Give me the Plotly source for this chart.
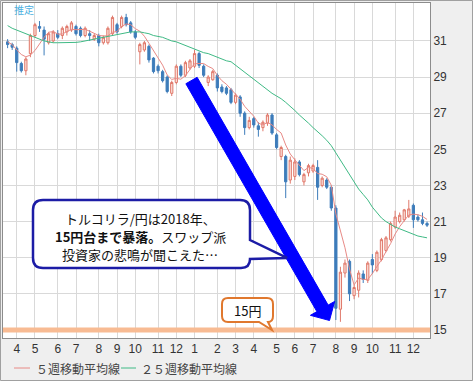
import math
import plotly.graph_objects as go
import pandas as pd

# ---------------- data (weekly TRY/JPY) ----------------
week_start = "2017-03-20"
n_weeks = 93
weeks = pd.date_range(week_start, periods=n_weeks, freq="7D")

opens = [30.95, 30.8, 30.6, 29.75, 29.35, 30.3, 31.3, 31.8, 31.6, 30.9,
         31.0, 31.4, 31.3, 31.5, 31.6, 31.8, 31.7, 31.3, 31.4, 31.1,
         31.3, 30.9, 30.9, 31.4, 31.9, 31.8, 32.3, 32.0, 31.5, 30.4,
         30.5, 30.7, 30.05, 29.6, 29.3, 29.0, 28.1, 28.7, 29.6, 29.1,
         29.5, 29.6, 30.3, 29.6, 28.7, 28.85, 29.1, 28.45, 28.4, 28.3,
         27.6, 27.9, 27.0, 26.2, 26.7, 26.3, 26.2, 26.45, 26.9, 25.8,
         24.6, 24.6, 23.3, 23.5, 24.3, 23.2, 23.7, 23.8, 24.0, 23.0,
         23.3, 22.9, 21.75, 16.15, 18.15, 18.8, 16.9, 17.2, 18.1, 17.75,
         18.9, 18.3, 18.9, 19.4, 20.0, 20.7, 21.0, 21.1, 21.3, 21.9,
         21.25, 21.1, 20.9]
highs = [31.1, 30.9, 30.7, 29.85, 30.1, 31.4, 32.0, 32.1, 31.8, 31.5,
         31.6, 31.6, 31.8, 31.9, 32.1, 31.9, 31.8, 31.8, 31.6, 31.4,
         31.4, 31.3, 31.8, 32.4, 32.0, 32.4, 32.5, 32.1, 31.6, 30.9,
         31.0, 30.8, 30.1, 29.7, 29.4, 29.1, 28.8, 29.7, 29.7, 29.9,
         30.0, 30.5, 30.4, 29.7, 29.1, 29.4, 29.2, 28.6, 28.5, 28.4,
         28.1, 28.0, 27.1, 26.8, 26.8, 26.5, 26.6, 27.0, 27.0, 25.9,
         25.2, 24.7, 24.6, 24.5, 24.4, 23.7, 24.2, 24.2, 24.4, 23.5,
         23.4, 23.0, 21.9, 18.5, 18.9, 18.9, 17.5, 18.3, 18.3, 18.8,
         19.2, 19.4, 20.1, 20.2, 21.0, 21.6, 21.5, 21.7, 22.2, 22.0,
         21.4, 21.5, 21.0]
lows = [30.6, 30.5, 29.3, 29.25, 29.1, 30.1, 31.2, 31.5, 30.2, 30.8,
        30.9, 31.1, 31.1, 31.3, 31.5, 31.3, 31.2, 31.2, 31.0, 31.0,
        30.7, 30.8, 30.8, 31.3, 31.4, 31.7, 31.8, 31.4, 31.1, 29.7,
        30.4, 29.8, 29.2, 29.2, 28.7, 28.1, 27.95, 28.6, 29.0, 29.0,
        29.4, 29.5, 29.5, 29.0, 28.5, 28.8, 28.2, 28.1, 28.0, 27.5,
        27.5, 26.8, 25.8, 26.1, 26.2, 25.7, 26.0, 26.3, 25.8, 25.0,
        24.4, 22.3, 23.1, 23.3, 23.5, 23.0, 23.5, 23.7, 22.2, 22.9,
        22.8, 21.6, 15.55, 15.45, 17.9, 16.6, 16.7, 16.8, 17.6, 17.6,
        18.1, 18.2, 18.8, 19.3, 19.9, 20.6, 20.9, 21.0, 21.2, 20.65,
        21.0, 20.8, 20.7]
closes = [30.8, 30.65, 29.8, 29.35, 30.0, 31.3, 31.9, 31.7, 31.1, 31.4,
          31.5, 31.2, 31.7, 31.8, 32.0, 31.4, 31.3, 31.7, 31.3, 31.3,
          30.9, 31.2, 31.7, 32.3, 31.5, 32.3, 31.9, 31.5, 31.2, 30.8,
          30.9, 29.95, 29.3, 29.35, 28.8, 28.2, 28.7, 29.6, 29.1, 29.8,
          29.9, 30.3, 29.65, 29.1, 29.0, 29.3, 28.4, 28.2, 28.1, 27.6,
          28.0, 27.0, 26.2, 26.6, 26.35, 26.1, 26.5, 26.9, 25.9, 25.1,
          25.1, 23.2, 24.4, 24.3, 23.6, 23.6, 24.1, 24.1, 22.9, 23.4,
          22.9, 21.75, 16.2, 18.2, 18.7, 17.0, 17.35, 18.15, 17.8, 18.7,
          18.6, 19.3, 20.0, 20.1, 20.9, 21.25, 21.35, 21.65, 21.7, 21.1,
          21.1, 20.9, 20.8]

ma5 = [30.95, 30.8, 30.5, 30.25, 30.12, 30.22, 30.47, 30.85, 31.2, 31.48,
       31.52, 31.38, 31.38, 31.52, 31.64, 31.62, 31.64, 31.64, 31.54, 31.4,
       31.3, 31.28, 31.28, 31.48, 31.52, 31.8, 31.94, 31.9, 31.68, 31.54,
       31.26, 30.87, 30.43, 30.06, 29.66, 29.12, 28.87, 28.93, 28.88, 29.08,
       29.42, 29.74, 29.75, 29.75, 29.59, 29.47, 29.09, 28.8, 28.6, 28.32,
       28.06, 27.78, 27.38, 27.08, 26.83, 26.45, 26.35, 26.49, 26.35, 26.1,
       25.9, 25.24, 24.74, 24.42, 24.12, 23.82, 24.0, 23.94, 23.66, 23.62,
       23.48, 23.01, 21.43, 20.49, 19.55, 18.37, 17.49, 17.88, 17.8, 17.8,
       18.12, 18.51, 18.88, 19.34, 19.78, 20.31, 20.72, 21.05, 21.37, 21.41,
       21.38, 21.29, 21.12]
ma25 = [31.85, 31.7, 31.6, 31.5, 31.4, 31.3, 31.2, 31.1, 31.0, 30.95,
        30.9, 30.9, 30.9, 30.9, 30.9, 30.92, 30.95, 31.0, 31.05, 31.1,
        31.15, 31.2, 31.25, 31.3, 31.35, 31.4, 31.45, 31.5, 31.5, 31.5,
        31.45, 31.4, 31.3, 31.25, 31.2, 31.1, 31.0, 30.95, 30.85, 30.75,
        30.65, 30.55, 30.45, 30.35, 30.3, 30.2, 30.1, 30.0, 29.9, 29.85,
        29.65, 29.45, 29.25, 29.05, 28.85, 28.65, 28.45, 28.25, 28.1, 27.95,
        27.8, 27.6, 27.4, 27.15, 26.9, 26.7, 26.45, 26.2, 26.0, 25.75,
        25.5, 25.2, 24.8, 24.4, 24.0, 23.6, 23.2, 22.8, 22.5, 22.2,
        21.8, 21.5, 21.2, 21.0, 20.85, 20.7, 20.6, 20.5, 20.4, 20.3,
        20.2, 20.15, 20.1]

tick_dates = ["2017-04-03", "2017-05-01", "2017-06-05", "2017-07-03", "2017-08-07",
              "2017-09-04", "2017-10-02", "2017-11-06", "2017-12-04", "2018-01-01",
              "2018-02-05", "2018-03-05", "2018-04-02", "2018-05-07", "2018-06-04",
              "2018-07-02", "2018-08-06", "2018-09-03", "2018-10-01", "2018-11-05",
              "2018-12-03"]
tick_labels = ["4", "5", "6", "7", "8", "9", "10", "11", "12", "1",
               "2", "3", "4", "5", "6", "7", "8", "9", "10", "11", "12"]
y_ticks = [15, 17, 19, 21, 23, 25, 27, 29, 31]

level_15 = 15
ma5_name = "５週移動平均線"
ma25_name = "２５週移動平均線"
callout_lines = ["トルコリラ/円は2018年、",
                 "<b>15円台まで暴落。</b>スワップ派",
                 "投資家の悲鳴が聞こえた…"]
level_text = "15円"
badge_text = "推定"

ma5_color = "#e88a86"
ma25_color = "#3fba85"

# ---------------- layout geometry ----------------
W, H = 473, 381
ML, MR, MT, MB = 3, 43, 3, 43
PW = W - ML - MR
PH = H - MT - MB


def px(x):
    return (x - ML) / PW


def py(y):
    return 1 - (y - MT) / PH


def path(cmds):
    parts = []
    for c in cmds:
        op = c[0]
        pts = " ".join(f"{px(x):.5f},{py(y):.5f}" for (x, y) in c[1:])
        parts.append(f"{op} {pts}")
    return " ".join(parts) + " Z"


start = pd.Timestamp(week_start)
x_range = [start - pd.Timedelta(days=7.1), start + pd.Timedelta(days=92.65 * 7)]
y_range = [14.555, 33.1]

fig = go.Figure()

fig.add_trace(go.Candlestick(
    x=weeks, open=opens, high=highs, low=lows, close=closes,
    increasing=dict(line=dict(color="#e0786a", width=1), fillcolor="#fbe3dd"),
    decreasing=dict(line=dict(color="#3d7cba", width=1), fillcolor="#3d7cba"),
    whiskerwidth=0, showlegend=False, hoverinfo="skip",
))
fig.add_trace(go.Scatter(x=weeks, y=ma5, mode="lines", name=ma5_name, showlegend=False,
                         line=dict(color=ma5_color, width=1)))
fig.add_trace(go.Scatter(x=weeks, y=ma25, mode="lines", name=ma25_name, showlegend=False,
                         line=dict(color=ma25_color, width=1)))

shapes = []
# 15 yen level band
shapes.append(dict(type="line", xref="paper", x0=0, x1=1, yref="y", y0=level_15, y1=level_15,
                   line=dict(color="#f8bb93", width=5), layer="above"))

# big blue arrow (pixel geometry)
c0 = (191.5, 80.5)
tip = (329.5, 320.5)
dx, dy = tip[0] - c0[0], tip[1] - c0[1]
ln = math.hypot(dx, dy)
ux, uy = dx / ln, dy / ln
nx, ny = uy, -ux
head_len, sw, hw = 14, 6.5, 14
bc = (tip[0] - ux * head_len, tip[1] - uy * head_len)
arrow_pts = [
    (c0[0] - sw * nx, c0[1] - sw * ny),
    (c0[0] + sw * nx, c0[1] + sw * ny),
    (bc[0] + sw * nx, bc[1] + sw * ny),
    (bc[0] + hw * nx, bc[1] + hw * ny),
    tip,
    (bc[0] - hw * nx, bc[1] - hw * ny),
    (bc[0] - sw * nx, bc[1] - sw * ny),
]
shapes.append(dict(type="path", xref="paper", yref="paper",
                   path=path([("M", arrow_pts[0])] + [("L", p) for p in arrow_pts[1:]]),
                   fillcolor="#0000ff", line=dict(color="#0000ff", width=1), layer="above"))

# blue callout box
box = path([
    ("M", (43, 200)), ("L", (240, 200)), ("Q", (250, 200), (250, 210)),
    ("L", (250, 240)), ("L", (287, 258)), ("L", (250, 259)),
    ("Q", (250, 268), (241, 268)), ("L", (43, 268)), ("Q", (33, 268), (33, 258)),
    ("L", (33, 210)), ("Q", (33, 200), (43, 200)),
])
shapes.append(dict(type="path", xref="paper", yref="paper", path=box,
                   fillcolor="white", line=dict(color="#1c1ca6", width=2.5), layer="above"))

# orange callout
obox = path([
    ("M", (228, 298)), ("L", (267, 298)), ("Q", (273, 298), (273, 304)),
    ("L", (273, 316)), ("Q", (273, 322), (268, 322)), ("L", (272, 330)),
    ("L", (259, 322)), ("L", (228, 322)), ("Q", (222, 322), (222, 316)),
    ("L", (222, 304)), ("Q", (222, 298), (228, 298)),
])
shapes.append(dict(type="path", xref="paper", yref="paper", path=obox,
                   fillcolor="white", line=dict(color="#e0782e", width=2), layer="above"))

# manual legend line samples
legend_y = 368
shapes.append(dict(type="line", xref="paper", yref="paper", x0=px(14), x1=px(30),
                   y0=py(legend_y), y1=py(legend_y), line=dict(color=ma5_color, width=1)))
shapes.append(dict(type="line", xref="paper", yref="paper", x0=px(121), x1=px(136),
                   y0=py(legend_y), y1=py(legend_y), line=dict(color=ma25_color, width=1)))

# outer border of the whole picture
shapes.append(dict(type="rect", xref="paper", yref="paper",
                   x0=px(0.5), x1=px(W - 0.5), y0=py(H - 0.5), y1=py(0.5),
                   line=dict(color="#a0a0a0", width=1), fillcolor="rgba(0,0,0,0)", layer="above"))

cjk = "Noto Sans CJK JP"
annotations = []
for k, line_text in enumerate(callout_lines):
    annotations.append(dict(xref="paper", yref="paper", x=px(140), y=py(218 + 18 * k), text=line_text,
                            showarrow=False, xanchor="center", yanchor="middle",
                            font=dict(family=cjk, size=13, color="#111111")))
annotations += [
    dict(xref="paper", yref="paper", x=px(247), y=py(310), text=level_text,
         showarrow=False, xanchor="center", yanchor="middle",
         font=dict(family=cjk, size=13, color="#111111")),
    dict(xref="paper", yref="paper", x=px(12), y=py(10), text=badge_text,
         showarrow=False, xanchor="left", yanchor="middle",
         font=dict(family=cjk, size=10, color="#4aaee0")),
    dict(xref="paper", yref="paper", x=px(34), y=py(legend_y), text=ma5_name,
         showarrow=False, xanchor="left", yanchor="middle",
         font=dict(family=cjk, size=12, color="#444444")),
    dict(xref="paper", yref="paper", x=px(139), y=py(legend_y), text=ma25_name,
         showarrow=False, xanchor="left", yanchor="middle",
         font=dict(family=cjk, size=12, color="#444444")),
]

fig.update_layout(
    width=W, height=H,
    margin=dict(l=ML, r=MR, t=MT, b=MB, pad=0, autoexpand=False),
    paper_bgcolor="#efefef", plot_bgcolor="white",
    shapes=shapes, annotations=annotations,
    showlegend=False,
    font=dict(family="Liberation Sans", size=12, color="#333333"),
    xaxis=dict(type="date", range=x_range, tickmode="array", tickvals=tick_dates, ticktext=tick_labels,
               showgrid=True, gridcolor="#d9d9d9", gridwidth=1, ticks="", ticklen=0,
               showline=True, linecolor="#8c8c8c", linewidth=1, mirror=True, automargin=False,
               rangeslider=dict(visible=False), zeroline=False,
               tickfont=dict(family="Liberation Sans", size=12, color="#333333")),
    yaxis=dict(range=y_range, side="right", tickmode="array", tickvals=y_ticks,
               showgrid=True, gridcolor="#d9d9d9", gridwidth=1, ticks="", ticklen=0,
               showline=True, linecolor="#8c8c8c", linewidth=1, mirror=True, zeroline=False,
               automargin=False,
               tickfont=dict(family="Liberation Sans", size=12, color="#333333")),
)

fig.write_html("out.html", config={"displayModeBar": False},
               post_script="document.body.style.margin='0px';")
